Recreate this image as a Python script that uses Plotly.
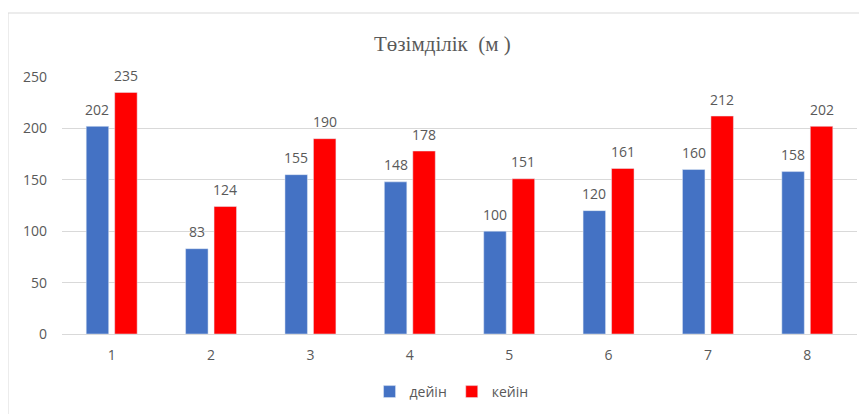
import plotly.graph_objects as go

categories = ["1", "2", "3", "4", "5", "6", "7", "8"]
before = [202, 83, 155, 148, 100, 120, 160, 158]
after = [235, 124, 190, 178, 151, 161, 212, 202]
series_names = ["дейін", "кейін"]
y_ticks = [0, 50, 100, 150, 200, 250]

font_fam = "Open Sans, Liberation Sans, sans-serif"
gray = "#595959"
colors = ["#4472C4", "#FF0000"]

fig = go.Figure()
for name, vals, col in zip(series_names, [before, after], colors):
    fig.add_trace(go.Bar(x=categories, y=vals, name=name, marker_color=col))

# data labels placed above each bar (x given as category index on the category axis)
bargap = 0.427
plot_w = 795
slot_px = plot_w / len(categories) * (1 - bargap) / 2
annotations = []
for i, vals in enumerate([before, after]):
    shift = (i - 0.5) * slot_px
    for j, v in enumerate(vals):
        annotations.append(dict(x=j, y=v, text=str(v), showarrow=False, xshift=shift,
                                yshift=17, yanchor="middle", xanchor="center",
                                font=dict(size=14, color=gray, family=font_fam)))

fig.update_layout(
    width=867, height=414,
    margin=dict(l=54, r=18, t=69, b=88, autoexpand=False),
    paper_bgcolor="white", plot_bgcolor="white",
    barmode="group", bargap=bargap, bargroupgap=0.21,
    title=dict(text="Төзімділік  (м )", x=0.501, xanchor="center", y=1 - 36/414, yanchor="middle",
               xref="container", yref="container",
               font=dict(family="Liberation Serif, Times New Roman, serif", size=21, color=gray)),
    xaxis=dict(type="category", showgrid=False, showline=True, linecolor="#D9D9D9", linewidth=1,
               automargin=False, tickfont=dict(size=14, color=gray, family=font_fam), ticks="",
               ticklabelstandoff=8),
    yaxis=dict(range=[0, 250], tickvals=y_ticks, showgrid=True, gridcolor="#D9D9D9",
               zeroline=False, showline=False, automargin=False, ticklabelstandoff=14,
               tickfont=dict(size=14, color=gray, family=font_fam)),
    legend=dict(orientation="h", x=0.49, xanchor="center", y=-58/257, yanchor="middle",
                font=dict(size=14, color=gray, family=font_fam), itemwidth=30,
                traceorder="normal"),
    font=dict(family=font_fam),
    annotations=annotations,
    shapes=[dict(type="rect", xref="paper", yref="paper",
                 x0=-54/795, x1=1.05, y0=-0.5, y1=1 + 64/257,
                 line=dict(color="#D9D9D9", width=1), fillcolor="rgba(0,0,0,0)", layer="below")],
)

fig.write_html("out.html")
